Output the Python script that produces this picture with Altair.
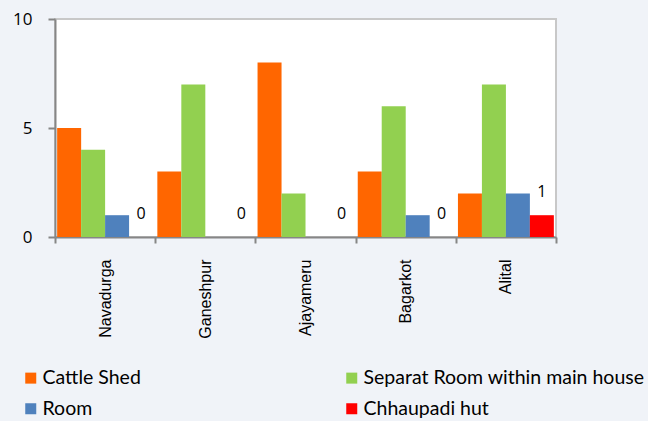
import altair as alt
import pandas as pd

villages = ["Navadurga", "Ganeshpur", "Ajayameru", "Bagarkot", "Alital"]
series = ["Cattle Shed", "Separat Room within main house", "Room", "Chhaupadi hut"]
colors = ["#FF6600", "#92D050", "#4F81BD", "#FF0000"]
cattle_shed = [5, 3, 8, 3, 2]
separate_room = [4, 7, 2, 6, 7]
room = [1, 0, 0, 1, 2]
chhaupadi = [0, 0, 0, 0, 1]

rows = []
for s, vals in zip(series, [cattle_shed, separate_room, room, chhaupadi]):
    for v, val in zip(villages, vals):
        rows.append({"village": v, "series": s, "value": val})
df = pd.DataFrame(rows)

# legend is laid out column by column, so list it in that order
legend_order = [series[0], series[2], series[1], series[3]]
legend_colors = [colors[0], colors[2], colors[1], colors[3]]

x = alt.X("village:N", sort=villages, title=None,
          scale=alt.Scale(paddingInner=0, paddingOuter=0),
          axis=alt.Axis(labelAngle=-90, labelAlign="right", labelBaseline="middle",
                        labelFont="Liberation Sans", labelFontSize=16, labelColor="#000000",
                        labelPadding=16, tickBand="extent", tickSize=6, tickWidth=2,
                        tickColor="#868686", domainColor="#868686", domainWidth=2))
xo = alt.XOffset("series:N", sort=series, scale=alt.Scale(domain=series, paddingOuter=0.09, paddingInner=0))
y = alt.Y("value:Q", title=None,
          scale=alt.Scale(domain=[0, 10], nice=False),
          axis=alt.Axis(values=[0, 5, 10], grid=False, labelFont="Open Sans", labelFontSize=17,
                        labelColor="#000000", labelPadding=16, tickSize=7, tickWidth=2,
                        tickColor="#868686", domainColor="#868686", domainWidth=2))

base = alt.Chart(df)
bars = base.mark_bar(size=24).encode(
    x=x, xOffset=xo, y=y,
    color=alt.Color("series:N",
                    scale=alt.Scale(domain=legend_order, range=legend_colors),
                    legend=alt.Legend(orient="none", legendX=-34, legendY=349, columns=2,
                                      columnPadding=201, rowPadding=10, title=None,
                                      symbolType="square", symbolSize=121, symbolStrokeWidth=0,
                                      labelFont="Lato", labelFontSize=19.5, labelColor="#000000",
                                      labelLimit=400, labelOffset=2, symbolOpacity=1)),
)
labels = base.transform_filter(alt.datum.series == "Chhaupadi hut").mark_text(
    font="Open Sans", fontSize=16, color="#000000", baseline="middle", dy=-23
).encode(x=x, xOffset=xo, y=y, text="value:Q")

chart = alt.layer(bars, labels).properties(
    width=501, height=218,
    autosize=alt.AutoSizeParams(type="none"),
    padding={"left": 55, "top": 19, "right": 92, "bottom": 184},
    background="#F0F3F8",
).configure_view(fill="#FFFFFF", stroke="#C8C8C8", strokeWidth=2)

chart.save("out.html", embed_options={"renderer": "svg", "actions": False})
